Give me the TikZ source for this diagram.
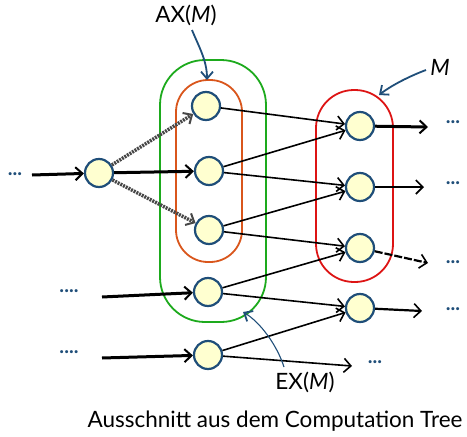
\documentclass[tikz,border=0pt]{standalone}
\usepackage{fontspec}
\setmainfont{Lato}
\usetikzlibrary{arrows.meta}
\definecolor{nodeblue}{HTML}{1F4E79}
\definecolor{nodefill}{HTML}{FFFFD0}
\definecolor{setgreen}{HTML}{1DAA1D}
\definecolor{setorange}{HTML}{D9561C}
\definecolor{setred}{HTML}{DD1414}
\begin{document}
\begin{tikzpicture}[x=1pt,y=-1pt,
  state/.style={circle, draw=nodeblue, fill=nodefill, line width=2.2pt, minimum size=28pt, inner sep=0pt},
  edge/.style={draw=black, line width=1.6pt, -{Straight Barb[length=7pt,width=14pt,line width=1.6pt]}},
  bold edge/.style={draw=black, line width=3pt, -{Straight Barb[length=7pt,width=13pt,line width=2pt]}},
  grey edge/.style={draw=black!72, line width=3.5pt, dash pattern=on 2pt off 1pt, -{Straight Barb[length=7pt,width=13pt,line width=2pt]}},
  dots/.style={text=nodeblue, font=\bfseries\fontsize{20}{20}\selectfont, inner sep=0pt},
  label arrow/.style={draw=nodeblue, line width=1.8pt, -{Straight Barb[length=7pt,width=12pt,line width=1.8pt]}},
  setline/.style={line width=1.8pt, rounded corners=#1},
  caption/.style={font=\fontsize{22.5}{22.5}\selectfont, inner sep=0pt}
]
\useasboundingbox (0,0) rectangle (467,437);

% sets of states
\draw[setline=45pt, setgreen] (160,60) rectangle (266,322);
\draw[setline=32pt, setorange] (176,80) rectangle (242,262);
\draw[setline=38pt, setred] (316,90) rectangle (393,282);

% states
\node[state] (L)  at (99,173) {};
\node[state] (A1) at (206,106) {};
\node[state] (A2) at (209,171) {};
\node[state] (A3) at (209,230) {};
\node[state] (A4) at (208,292) {};
\node[state] (A5) at (208,355) {};
\node[state] (B1) at (360,126) {};
\node[state] (B2) at (360,187) {};
\node[state] (B3) at (360,248) {};
\node[state] (B4) at (360,308) {};

% continuation dots
\node[dots] (d0) at (15,174) {...};
\node[dots] (d1) at (69,291) {....};
\node[dots] (d2) at (69,352) {....};
\node[dots] (d3) at (453,122) {...};
\node[dots] (d4) at (453,183) {...};
\node[dots] (d5) at (453,262) {...};
\node[dots] (d6) at (453,309) {...};
\node[dots] (d7) at (375,362) {...};

% free ends of the connectors
\coordinate (i0) at (32,175);
\coordinate (i1) at (102,297);
\coordinate (i2) at (102,358);
\coordinate (o1) at (428,127);
\coordinate (o2) at (424,187);
\coordinate (o3) at (428,263);
\coordinate (o4) at (422,311);
\coordinate (o5) at (352,366);

% transitions into the left state and the first column
\draw[bold edge] (i0) -- (L);
\draw[bold edge] (L) -- (A2);
\draw[grey edge] (L) -- (A1);
\draw[grey edge] (L) -- (A3);
\draw[bold edge] (i1) -- (A4);
\draw[bold edge] (i2) -- (A5);

% transitions from the first to the second column
\draw[edge] (A1) -- (B1);
\draw[edge] (A2) -- (B1);
\draw[edge] (A2) -- (B2);
\draw[edge] (A3) -- (B2);
\draw[edge] (A3) -- (B3);
\draw[edge] (A4) -- (B3);
\draw[edge] (A4) -- (B4);
\draw[edge] (A5) -- (B4);
\draw[edge] (A5) -- (o5);

% outgoing transitions
\draw[bold edge] (B1) -- (o1);
\draw[edge, line width=2.2pt] (B2) -- (o2);
\draw[edge, line width=2.2pt, dash pattern=on 8pt off 2pt] (B3) -- (o3);
\draw[edge, line width=2.2pt] (B4) -- (o4);

% labels
\node[caption] (ax) at (186,15) {AX(\textit{M})};
\node[caption] (m) at (440,67) {\textit{M}};
\node[caption] (ex) at (305,382) {EX(\textit{M})};
\node[caption] (cap) at (275,421) {Ausschnitt aus dem Computation Tree};

\coordinate (axtip) at (207,80);
\coordinate (mtip) at (379,95);
\coordinate (extip) at (243,312);
\draw[label arrow] (192,30) .. controls (198,45) and (207,60) .. (axtip);
\draw[label arrow] (426,70) .. controls (410,76) and (392,85) .. (mtip);
\draw[label arrow, line width=1.1pt] (284,367) .. controls (277,345) and (260,322) .. (extip);
\end{tikzpicture}
\end{document}
